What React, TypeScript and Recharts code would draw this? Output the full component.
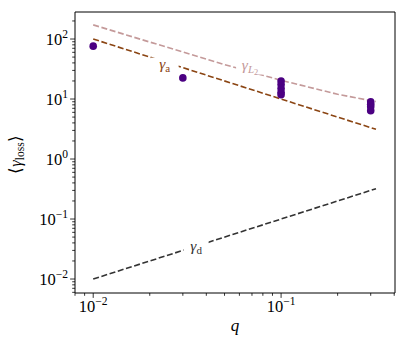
import { ComposedChart, Line, Scatter, XAxis, YAxis, ReferenceArea } from 'recharts'

const FONT = 'Liberation Serif'

// q range of the analytic curves
const qLine = [0.01, 0.32]
const gammaA = [100, 3.125]
const gammaD = [0.01, 0.32]

// L2 estimate
const qL2 = [0.01, 0.015, 0.02, 0.03, 0.05, 0.07, 0.1, 0.15, 0.2, 0.3, 0.32]
const gammaL2 = [172, 117, 89, 61, 37.5, 28, 20.5, 15, 12, 9.4, 9.1]

// simulated points
const qSim = [0.01, 0.03, 0.1, 0.1, 0.1, 0.1, 0.1, 0.3, 0.3, 0.3, 0.3]
const gammaSim = [76, 22.5, 20, 17.5, 15, 13, 11.8, 9.0, 8.2, 7.4, 6.4]

// inline curve labels
const labelNames = ['a', 'L2', 'd']
const labelQ = [0.024, 0.0684, 0.0353]
const labelGamma = [36, 34.8, 0.0329]

const xDomain = [0.008, 0.404]
const yDomain = [0.00585, 282]
const xMajorTicks = [0.01, 0.1]
const yMajorTicks = [0.01, 0.1, 1, 10, 100]

const COLORS: Record<string, string> = { a: '#8b4513', L2: '#c49a9a', d: '#333333' }

const minorOf = (decades: number[], dom: number[]) =>
  decades
    .flatMap(d => [2, 3, 4, 5, 6, 7, 8, 9].map(m => +(m * d).toPrecision(3)))
    .filter(v => v >= dom[0] && v <= dom[1])

const xTicks = [...xMajorTicks, ...minorOf([0.001, 0.01, 0.1], xDomain)].sort((a, b) => a - b)
const yTicks = [...yMajorTicks, ...minorOf([0.001, 0.01, 0.1, 1, 10, 100], yDomain)].sort((a, b) => a - b)

const toPairs = (xs: number[], ys: number[]) => xs.map((q, i) => ({ q, y: ys[i] }))

const lineA = toPairs(qLine, gammaA)
const lineD = toPairs(qLine, gammaD)
const lineL2 = toPairs(qL2, gammaL2)
const sim = toPairs(qSim, gammaSim)
const labels = labelNames.map((name, i) => ({ q: labelQ[i], y: labelGamma[i], name }))

const expText = (v: number) => {
  const e = Math.round(Math.log10(v))
  return e < 0 ? '\u2212' + Math.abs(e) : String(e)
}

function XTick(props: any) {
  const { x, y, payload } = props
  const major = xMajorTicks.includes(payload.value)
  return (
    <g>
      <line x1={x} x2={x} y1={y} y2={y + (major ? 4.9 : 2.8)} stroke="#000" strokeWidth={0.8} />
      {major && (
        <text x={x} y={y + 18.5} textAnchor="middle" fontFamily={FONT} fontSize={16.5} fill="#000">
          10<tspan dy={-7} fontSize={11.5}>{expText(payload.value)}</tspan>
        </text>
      )}
    </g>
  )
}

function YTick(props: any) {
  const { x, y, payload } = props
  const major = yMajorTicks.includes(payload.value)
  return (
    <g>
      <line x1={x - (major ? 4.9 : 2.8)} x2={x} y1={y} y2={y} stroke="#000" strokeWidth={0.8} />
      {major && (
        <text x={x - 7} y={y + 6} textAnchor="end" fontFamily={FONT} fontSize={16.5} fill="#000">
          10<tspan dy={-7} fontSize={11.5}>{expText(payload.value)}</tspan>
        </text>
      )}
    </g>
  )
}

// inline label that cuts the dashed curve (white box behind the text)
function CurveLabel(p: any) {
  const name = p.payload?.name ?? p.name
  const color = COLORS[name]
  const w = name === 'd' ? 25 : 28
  const { cx, cy } = p
  return (
    <g>
      <rect x={cx - w / 2} y={cy - 8} width={w} height={16} fill="#fff" />
      <text x={cx} y={cy + 3} textAnchor="middle" fill={color} fontFamily={FONT} fontSize={15.5}>
        <tspan fontStyle="italic">γ</tspan>
        {name === 'L2' ? (
          <>
            <tspan dy={3} fontSize={11} fontStyle="italic">L</tspan>
            <tspan dy={2.5} fontSize={8.5}>2</tspan>
          </>
        ) : (
          <tspan dy={3} fontSize={11}>{name}</tspan>
        )}
      </text>
    </g>
  )
}

export default function App() {
  return (
    <div style={{ position: 'absolute', left: 0, top: 0, background: '#fff' }}>
      <ComposedChart width={407} height={347} margin={{ top: 12, right: 12, bottom: 0, left: 0 }}>
        <XAxis
          dataKey="q"
          type="number"
          scale="log"
          domain={xDomain}
          allowDataOverflow
          ticks={xTicks}
          interval={0}
          tick={<XTick />}
          tickSize={0}
          tickMargin={0}
          tickLine={false}
          axisLine={false}
          height={54}
          label={{
            content: ({ viewBox }: any) => (
              <text x={viewBox.x + viewBox.width / 2} y={viewBox.y + 38} textAnchor="middle"
                fontFamily={FONT} fontSize={17} fontStyle="italic" fill="#000">q</text>
            ),
          }}
        />
        <YAxis
          dataKey="y"
          type="number"
          scale="log"
          domain={yDomain}
          allowDataOverflow
          ticks={yTicks}
          interval={0}
          tick={<YTick />}
          tickSize={0}
          tickMargin={0}
          tickLine={false}
          axisLine={false}
          width={75}
          label={{
            content: ({ viewBox }: any) => {
              const cx = 21
              const cy = viewBox.y + viewBox.height / 2 + 2
              return (
                <text x={cx} y={cy} transform={`rotate(-90, ${cx}, ${cy})`} textAnchor="middle"
                  fontFamily={FONT} fontSize={16.5} fill="#000">
                  {'\u27e8'}<tspan fontStyle="italic">γ</tspan>
                  <tspan dy={3} fontSize={11.5}>loss</tspan>
                  <tspan dy={-3}>{'\u27e9'}</tspan>
                </text>
              )
            },
          }}
        />
        <ReferenceArea x1={xDomain[0]} x2={xDomain[1]} y1={yDomain[0]} y2={yDomain[1]}
          fill="none" stroke="#000" strokeWidth={1} ifOverflow="visible" />
        <Line data={lineL2} dataKey="y" type="linear" stroke="#c49a9a" strokeWidth={1.6}
          strokeDasharray="6 2.6" dot={false} isAnimationActive={false} />
        <Line data={lineA} dataKey="y" type="linear" stroke="#8b4513" strokeWidth={1.6}
          strokeDasharray="6 2.6" dot={false} isAnimationActive={false} />
        <Line data={lineD} dataKey="y" type="linear" stroke="#333333" strokeWidth={1.6}
          strokeDasharray="6 2.6" dot={false} isAnimationActive={false} />
        <Scatter data={labels} dataKey="y" isAnimationActive={false} shape={CurveLabel} />
        <Scatter data={sim} dataKey="y" fill="#4b0082" isAnimationActive={false}
          shape={(p: any) => <circle cx={p.cx} cy={p.cy} r={3.8} fill="#4b0082" />} />
      </ComposedChart>
    </div>
  )
}
